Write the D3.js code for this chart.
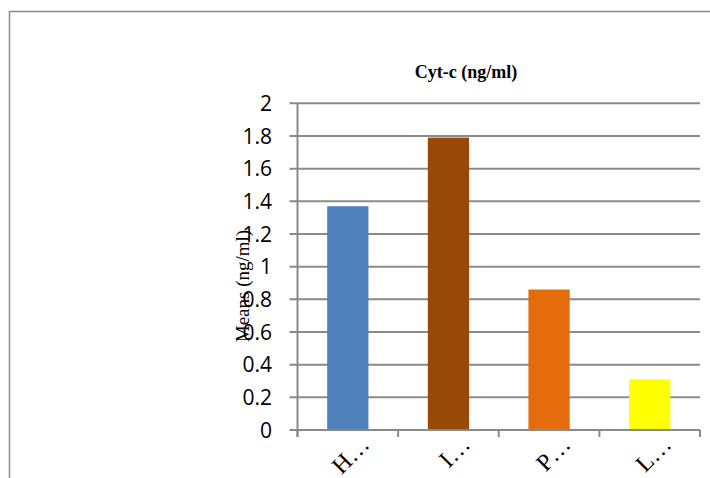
<!DOCTYPE html>
<html>
<head>
<meta charset="utf-8">
<script src="https://cdn.jsdelivr.net/npm/d3@7"></script>
<style>
  html, body { margin: 0; padding: 0; background: #fff; }
  svg { display: block; }
</style>
</head>
<body>
<svg id="chart" width="710" height="478"></svg>
<script>
// Mean Cyt-c concentration per group
const categories = ["H…", "I…", "P…", "L…"];
const means = [1.37, 1.79, 0.86, 0.31];
const barColors = ["#4F81BD", "#984807", "#E46C0A", "#FFFF00"];
const yTicks = [0, 0.2, 0.4, 0.6, 0.8, 1, 1.2, 1.4, 1.6, 1.8, 2];
const chartTitle = "Cyt-c (ng/ml)";
const yTitle = "Means (ng/ml)";

const svg = d3.select("#chart");
const gridColor = "#8a8a8a";

// Chart frame
svg.append("path")
  .attr("d", "M9.5,478 V11.5 H710")
  .attr("fill", "none")
  .attr("stroke", "#8c8c8c")
  .attr("stroke-width", 1.5);

const plot = { left: 297.5, right: 700, top: 103.3, bottom: 430 };

const x = d3.scaleBand()
  .domain(categories)
  .range([plot.left, plot.right])
  .paddingInner(0.59)
  .paddingOuter(0.295);

const y = d3.scaleLinear()
  .domain([0, 2])
  .range([plot.bottom, plot.top]);

// Horizontal gridlines with their tick stubs
svg.append("g")
  .selectAll("line")
  .data(yTicks)
  .join("line")
  .attr("x1", plot.left - 8)
  .attr("x2", plot.right)
  .attr("y1", d => y(d))
  .attr("y2", d => y(d))
  .attr("stroke", gridColor)
  .attr("stroke-width", 2);

// Bars
svg.append("g")
  .selectAll("rect")
  .data(means)
  .join("rect")
  .attr("x", (d, i) => x(categories[i]))
  .attr("width", x.bandwidth())
  .attr("y", d => y(d))
  .attr("height", d => y(0) - y(d))
  .attr("fill", (d, i) => barColors[i]);

// Value axis line
svg.append("line")
  .attr("x1", plot.left).attr("x2", plot.left)
  .attr("y1", plot.top).attr("y2", plot.bottom + 7)
  .attr("stroke", gridColor)
  .attr("stroke-width", 2);

// Category axis line and boundary ticks
svg.append("line")
  .attr("x1", plot.left).attr("x2", plot.right)
  .attr("y1", plot.bottom).attr("y2", plot.bottom)
  .attr("stroke", gridColor)
  .attr("stroke-width", 2);

const step = x.step();
const boundaries = d3.range(categories.length + 1).map(i => plot.left + i * step);
svg.append("g")
  .selectAll("line")
  .data(boundaries)
  .join("line")
  .attr("x1", d => d).attr("x2", d => d)
  .attr("y1", plot.bottom).attr("y2", plot.bottom + 7)
  .attr("stroke", gridColor)
  .attr("stroke-width", 2);

// Y tick labels
svg.append("g")
  .selectAll("text")
  .data(yTicks)
  .join("text")
  .attr("x", 272)
  .attr("y", d => y(d))
  .attr("dy", "0.36em")
  .attr("text-anchor", "end")
  .attr("font-family", "'Open Sans', 'Liberation Sans', sans-serif")
  .attr("font-size", 21)
  .attr("fill", "#000")
  .text(d => d3.format("~g")(d));

// Category labels, rotated
svg.append("g")
  .selectAll("text")
  .data(categories)
  .join("text")
  .attr("transform", d => `translate(${x(d) + x.bandwidth() / 2 + 23},${plot.bottom + 16}) rotate(-45)`)
  .attr("text-anchor", "end")
  .attr("font-family", "'Liberation Serif', 'Times New Roman', serif")
  .attr("font-size", 24)
  .attr("fill", "#000")
  .text(d => d);

// Chart title
svg.append("text")
  .attr("x", 466)
  .attr("y", 78)
  .attr("text-anchor", "middle")
  .attr("font-family", "'Liberation Serif', 'Times New Roman', serif")
  .attr("font-weight", "bold")
  .attr("font-size", 18)
  .attr("fill", "#000")
  .text(chartTitle);

// Y axis title
svg.append("text")
  .attr("transform", "translate(249,286) rotate(-90)")
  .attr("text-anchor", "middle")
  .attr("font-family", "'Liberation Serif', 'Times New Roman', serif")
  .attr("font-size", 19)
  .attr("fill", "#000")
  .text(yTitle);
</script>
</body>
</html>
